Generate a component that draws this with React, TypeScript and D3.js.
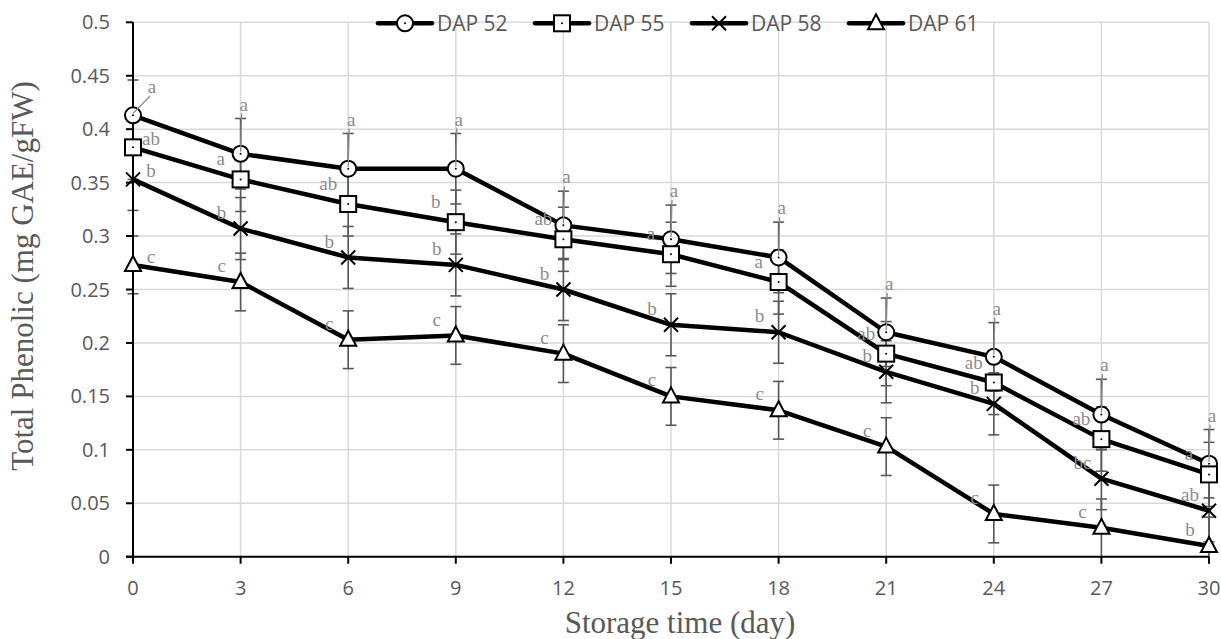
import React from 'react';
import * as d3 from 'd3';

const days = [0, 3, 6, 9, 12, 15, 18, 21, 24, 27, 30];
const seriesNames = ['DAP 52', 'DAP 55', 'DAP 58', 'DAP 61'];
const dap52 = [0.413, 0.377, 0.363, 0.363, 0.310, 0.297, 0.280, 0.210, 0.187, 0.133, 0.087];
const dap55 = [0.383, 0.353, 0.330, 0.313, 0.297, 0.283, 0.257, 0.190, 0.163, 0.110, 0.077];
const dap58 = [0.353, 0.307, 0.280, 0.273, 0.250, 0.217, 0.210, 0.173, 0.143, 0.073, 0.043];
const dap61 = [0.273, 0.257, 0.203, 0.207, 0.190, 0.150, 0.137, 0.103, 0.040, 0.027, 0.010];
const err52 = [0.033, 0.033, 0.033, 0.033, 0.032, 0.032, 0.033, 0.032, 0.032, 0.033, 0.032];
const err55 = [0.030, 0.030, 0.030, 0.030, 0.030, 0.030, 0.030, 0.030, 0.030, 0.030, 0.030];
const err58 = [0.029, 0.029, 0.029, 0.029, 0.029, 0.029, 0.029, 0.029, 0.029, 0.029, 0.029];
const err61 = [0.027, 0.027, 0.027, 0.027, 0.027, 0.027, 0.027, 0.027, 0.027, 0.027, 0.027];
const let52 = ['a', 'a', 'a', 'a', 'a', 'a', 'a', 'a', 'a', 'a', 'a'];
const let55 = ['ab', 'a', 'ab', 'b', 'ab', 'a', 'a', 'ab', 'ab', 'ab', 'a'];
const let58 = ['b', 'b', 'b', 'b', 'b', 'b', 'b', 'b', 'b', 'bc', 'ab'];
const let61 = ['c', 'c', 'c', 'c', 'c', 'c', 'c', 'c', 'c', 'c', 'b'];
const yTicks = [0, 0.05, 0.1, 0.15, 0.2, 0.25, 0.3, 0.35, 0.4, 0.45, 0.5];
const yTickLabels = ['0', '0.05', '0.1', '0.15', '0.2', '0.25', '0.3', '0.35', '0.4', '0.45', '0.5'];
const xTitle = 'Storage time (day)';
const yTitle = 'Total Phenolic (mg GAE/gFW)';

const values = [dap52, dap55, dap58, dap61];
const errors = [err52, err55, err58, err61];
const letters = [let52, let55, let58, let61];
const markerTypes = ['circle', 'square', 'x', 'triangle'];

const W = 1221, H = 639;
const L = 133, R = 1209, T = 22.3, B = 556.7;
const x = d3.scaleLinear().domain([0, 30]).range([L, R]);
const y = d3.scaleLinear().domain([0, 0.5]).range([B, T]);

const GRID = '#d9d9d9';
const TXT = '#595959';
const LET = '#8c8c8c';
const SANS = '"Open Sans", "Noto Sans", sans-serif';
const SERIF = '"Liberation Serif", "Times New Roman", serif';

function Marker({ type, cx, cy }: { type: string; cx: number; cy: number }) {
  const sw = 2;
  if (type === 'circle') {
    return (
      <g>
        <circle cx={cx} cy={cy} r={8} fill="#fff" stroke="#000" strokeWidth={sw} />
        <circle cx={cx} cy={cy} r={1} fill="#000" />
      </g>
    );
  }
  if (type === 'square') {
    return (
      <g>
        <rect x={cx - 8} y={cy - 8} width={16} height={16} fill="#fff" stroke="#000" strokeWidth={sw} />
        <circle cx={cx} cy={cy} r={1} fill="#000" />
      </g>
    );
  }
  if (type === 'x') {
    return (
      <g stroke="#000" strokeWidth={sw}>
        <line x1={cx - 7} y1={cy - 7} x2={cx + 7} y2={cy + 7} />
        <line x1={cx - 7} y1={cy + 7} x2={cx + 7} y2={cy - 7} />
      </g>
    );
  }
  return (
    <path
      d={`M${cx},${cy - 9} L${cx + 8},${cy + 6} L${cx - 8},${cy + 6} Z`}
      fill="#fff"
      stroke="#000"
      strokeWidth={sw}
    />
  );
}

export default function App() {
  const line = d3
    .line<number>()
    .x((_, i) => x(days[i]))
    .y((d) => y(d));

  return (
    <svg width={W} height={H} style={{ position: 'absolute', left: 0, top: 0, background: '#fff' }}>
      {/* gridlines */}
      {yTicks.map((t) => (
        <line key={'gy' + t} x1={L} x2={R} y1={y(t)} y2={y(t)} stroke={GRID} strokeWidth={1.5} />
      ))}
      {days.map((d) => (
        <line key={'gx' + d} x1={x(d)} x2={x(d)} y1={T} y2={B} stroke={GRID} strokeWidth={1.5} />
      ))}

      {/* error bars */}
      {values.map((vals, s) =>
        vals.map((v, i) => {
          const px = x(days[i]);
          const e = errors[s][i];
          const y1 = y(v + e), y2 = y(Math.max(0, v - e));
          return (
            <g key={`e${s}-${i}`} stroke={TXT} strokeWidth={1.6}>
              <line x1={px} x2={px} y1={y1} y2={y2} />
              <line x1={px - 5.5} x2={px + 5.5} y1={y1} y2={y1} />
              {v - e > 0 && <line x1={px - 5.5} x2={px + 5.5} y1={y2} y2={y2} />}
            </g>
          );
        })
      )}

      {/* axes */}
      <line x1={L} x2={L} y1={T} y2={B} stroke="#000" strokeWidth={2} />
      <line x1={L - 7} x2={R} y1={B} y2={B} stroke="#000" strokeWidth={2} />
      {yTicks.map((t) => (
        <line key={'ty' + t} x1={L - 7} x2={L} y1={y(t)} y2={y(t)} stroke="#000" strokeWidth={2} />
      ))}
      {days.map((d) => (
        <line key={'tx' + d} x1={x(d)} x2={x(d)} y1={B} y2={B + 7} stroke="#000" strokeWidth={2} />
      ))}

      {/* series */}
      {values.map((vals, s) => (
        <g key={'s' + s}>
          <path d={line(vals) || ''} fill="none" stroke="#000" strokeWidth={4.5} strokeLinejoin="round" />
          {vals.map((v, i) => (
            <Marker key={i} type={markerTypes[s]} cx={x(days[i])} cy={y(v)} />
          ))}
        </g>
      ))}

      {/* significance letters */}
      {values.map((vals, s) =>
        vals.map((v, i) => {
          const px = x(days[i]);
          const py = y(v);
          let lx: number, ly: number;
          if (s === 0) {
            if (i === 0) {
              lx = px + 19;
              ly = py - 28;
            } else {
              lx = px + 3;
              ly = y(v + errors[s][i]) - 14;
            }
          } else if (i === 0) {
            lx = px + 18;
            ly = py - 8;
          } else if (s === 1) {
            lx = px - 20;
            ly = py - 20;
          } else {
            lx = px - 19;
            ly = py - 16;
          }
          return (
            <g key={`l${s}-${i}`}>
              {s === 0 && (
                <line x1={lx - 2} y1={ly + 9} x2={px} y2={py - 2} stroke={LET} strokeWidth={1.3} />
              )}
              <text
                x={lx}
                y={ly}
                dy="0.32em"
                textAnchor="middle"
                fontFamily={SERIF}
                fontSize={19}
                fill={LET}
              >
                {letters[s][i]}
              </text>
            </g>
          );
        })
      )}

      {/* tick labels */}
      {yTicks.map((t, i) => (
        <text
          key={'yl' + t}
          x={110}
          y={y(t)}
          dy="0.35em"
          textAnchor="end"
          fontFamily={SANS}
          fontSize={20}
          fill={TXT}
        >
          {yTickLabels[i]}
        </text>
      ))}
      {days.map((d) => (
        <text
          key={'xl' + d}
          x={x(d)}
          y={595}
          textAnchor="middle"
          fontFamily={SANS}
          fontSize={20}
          fill={TXT}
        >
          {d}
        </text>
      ))}

      {/* axis titles */}
      <text x={680} y={633} textAnchor="middle" fontFamily={SERIF} fontSize={31} fill={TXT}>
        {xTitle}
      </text>
      <text
        transform={`translate(33,276) rotate(-90)`}
        textAnchor="middle"
        fontFamily={SERIF}
        fontSize={31}
        fill={TXT}
      >
        {yTitle}
      </text>

      {/* legend */}
      {seriesNames.map((name, s) => {
        const lx = 378 + s * 157;
        const ly = 23.3;
        return (
          <g key={'lg' + s}>
            <line x1={lx} x2={lx + 54} y1={ly} y2={ly} stroke="#000" strokeWidth={4.5} strokeLinecap="round" />
            <Marker type={markerTypes[s]} cx={lx + 27} cy={ly} />
            <text x={lx + 59} y={ly} dy="0.35em" fontFamily={SANS} fontSize={21} fill={TXT}>
              {name}
            </text>
          </g>
        );
      })}
    </svg>
  );
}
